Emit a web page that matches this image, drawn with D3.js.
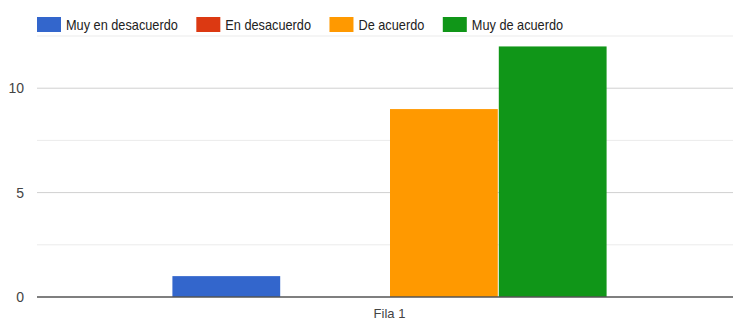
<!DOCTYPE html>
<html>
<head>
<meta charset="utf-8">
<script src="https://cdn.jsdelivr.net/npm/d3@7"></script>
<style>
  body { margin: 0; background: #fff; }
  svg text { font-family: "Liberation Sans", Arial, sans-serif; }
</style>
</head>
<body>
<svg id="chart" width="733" height="326"></svg>
<script>
// data
const categories = ["Fila 1"];
const seriesNames = ["Muy en desacuerdo", "En desacuerdo", "De acuerdo", "Muy de acuerdo"];
const seriesValues = [1, 0, 9, 12];
const seriesColors = ["#3366cc", "#dc3912", "#ff9900", "#109618"];
const majorTicks = [0, 5, 10];
const minorTicks = [2.5, 7.5, 12.5];

const svg = d3.select("#chart");
const plotLeft = 37, plotRight = 742, plotTop = 36, plotBottom = 297;

const y = d3.scaleLinear().domain([0, 12.5]).range([plotBottom, plotTop]);
const x0 = d3.scaleBand().domain(categories).range([plotLeft, plotRight]).paddingInner(0).paddingOuter(0.31);
const x1 = d3.scaleBand().domain(seriesNames).range([0, x0.bandwidth()]).padding(0);

// gridlines
svg.append("g").selectAll("line")
  .data(minorTicks)
  .join("line")
  .attr("x1", plotLeft).attr("x2", 733)
  .attr("y1", d => y(d)).attr("y2", d => y(d))
  .attr("stroke", "#ebebeb").attr("stroke-width", 1);

svg.append("g").selectAll("line")
  .data(majorTicks.filter(d => d !== 0))
  .join("line")
  .attr("x1", plotLeft).attr("x2", 733)
  .attr("y1", d => y(d)).attr("y2", d => y(d))
  .attr("stroke", "#d0d0d0").attr("stroke-width", 1);

// y axis labels
const yAxis = svg.append("g")
  .attr("transform", `translate(${plotLeft},0)`)
  .call(d3.axisLeft(y).tickValues(majorTicks).tickSize(0).tickPadding(13).tickFormat(d3.format("d")));
yAxis.select(".domain").remove();
yAxis.selectAll("text").attr("font-size", 14).attr("fill", "#444")
  .attr("font-family", "Liberation Sans, Arial, sans-serif");

// bars
const groups = svg.append("g").selectAll("g")
  .data(categories)
  .join("g")
  .attr("transform", d => `translate(${x0(d)},0)`);

groups.selectAll("rect")
  .data(seriesNames.map((n, i) => ({ name: n, value: seriesValues[i], color: seriesColors[i] })))
  .join("rect")
  .attr("x", d => x1(d.name) + 0.5)
  .attr("width", x1.bandwidth() - 1)
  .attr("y", d => y(d.value))
  .attr("height", d => y(0) - y(d.value))
  .attr("fill", d => d.color);

// baseline
svg.append("line")
  .attr("x1", plotLeft).attr("x2", 733)
  .attr("y1", y(0)).attr("y2", y(0))
  .attr("stroke", "#555").attr("stroke-width", 1.6);

// x axis label
const xAxis = svg.append("g")
  .attr("transform", `translate(0,${plotBottom})`)
  .call(d3.axisBottom(x0).tickSize(0).tickPadding(12));
xAxis.select(".domain").remove();
xAxis.selectAll("text").attr("font-size", 13).attr("fill", "#444")
  .attr("font-family", "Liberation Sans, Arial, sans-serif");

// legend (text a bit narrow and tall, like the screenshot)
const legend = svg.append("g").attr("transform", "translate(37,17)");
let lx = 0;
seriesNames.forEach((name, i) => {
  const g = legend.append("g").attr("transform", `translate(${lx},0)`);
  g.append("rect").attr("width", 24).attr("height", 15).attr("fill", seriesColors[i]);
  const t = g.append("text")
    .attr("transform", "translate(29,13) scale(0.91,1)")
    .attr("font-size", 14).attr("fill", "#222").text(name);
  lx += 29 + t.node().getComputedTextLength() * 0.91 + 18.5;
});
</script>
</body>
</html>
